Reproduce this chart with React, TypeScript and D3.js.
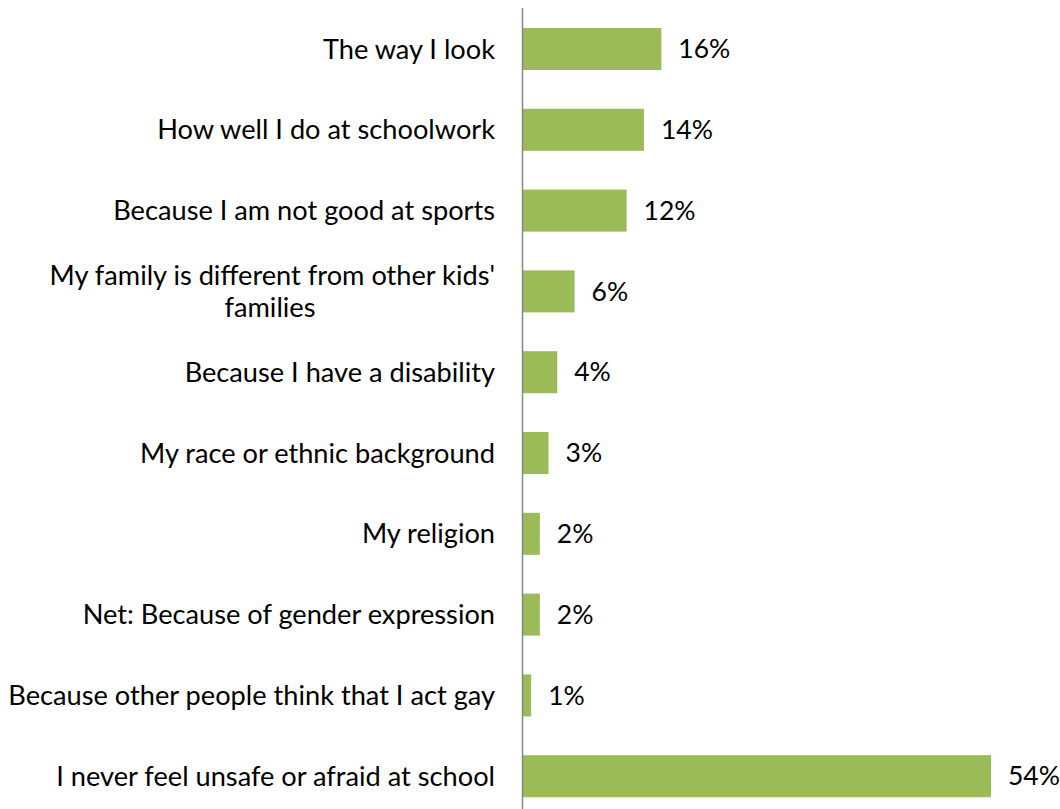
import React from "react";
import * as d3 from "d3";

const categories: string[][] = [
  ["The way I look"],
  ["How well I do at schoolwork"],
  ["Because I am not good at sports"],
  ["My family is different from other kids'", "families"],
  ["Because I have a disability"],
  ["My race or ethnic background"],
  ["My religion"],
  ["Net: Because of gender expression"],
  ["Because other people think that I act gay"],
  ["I never feel unsafe or afraid at school"],
];
const values: number[] = [16, 14, 12, 6, 4, 3, 2, 2, 1, 54];

const W = 1060;
const H = 809;

export default function App() {
  const x0 = 522.5;
  const x = d3.scaleLinear().domain([0, 54]).range([x0, 991]);
  const keys = categories.map((_, i) => String(i));
  const y = d3.scaleBand().domain(keys).range([8.6, 816.6]).paddingInner(0.48).paddingOuter(0.24);
  const font = "Lato, 'Open Sans', sans-serif";
  const fs = 27.2;
  return (
    <svg width={W} height={H} style={{ position: "absolute", left: 0, top: 0, background: "#fff" }}>
      {values.map((v, i) => {
        const yy = y(keys[i])!;
        const bh = y.bandwidth();
        const cy = yy + bh / 2;
        const lines = categories[i];
        const lh = 32;
        return (
          <g key={i}>
            <rect x={x(0)} y={yy} width={x(v) - x(0)} height={bh} fill="#9BBB59" />
            <text x={x(v) + 17} y={cy} dy="0.35em" fontFamily={font} fontSize={fs - 0.7} fill="#000">
              {d3.format(".0f")(v) + "%"}
            </text>
            {lines.map((l, j) => (
              <text
                key={j}
                x={lines.length > 1 && j > 0 ? 270 : 495}
                y={cy + (j - (lines.length - 1) / 2) * lh}
                dy="0.35em"
                textAnchor={lines.length > 1 && j > 0 ? "middle" : "end"}
                fontFamily={font}
                fontSize={fs}
                fill="#000"
              >
                {l}
              </text>
            ))}
          </g>
        );
      })}
      <line x1={x0} x2={x0} y1={8} y2={H} stroke="#868686" strokeWidth={1.5} />
    </svg>
  );
}
